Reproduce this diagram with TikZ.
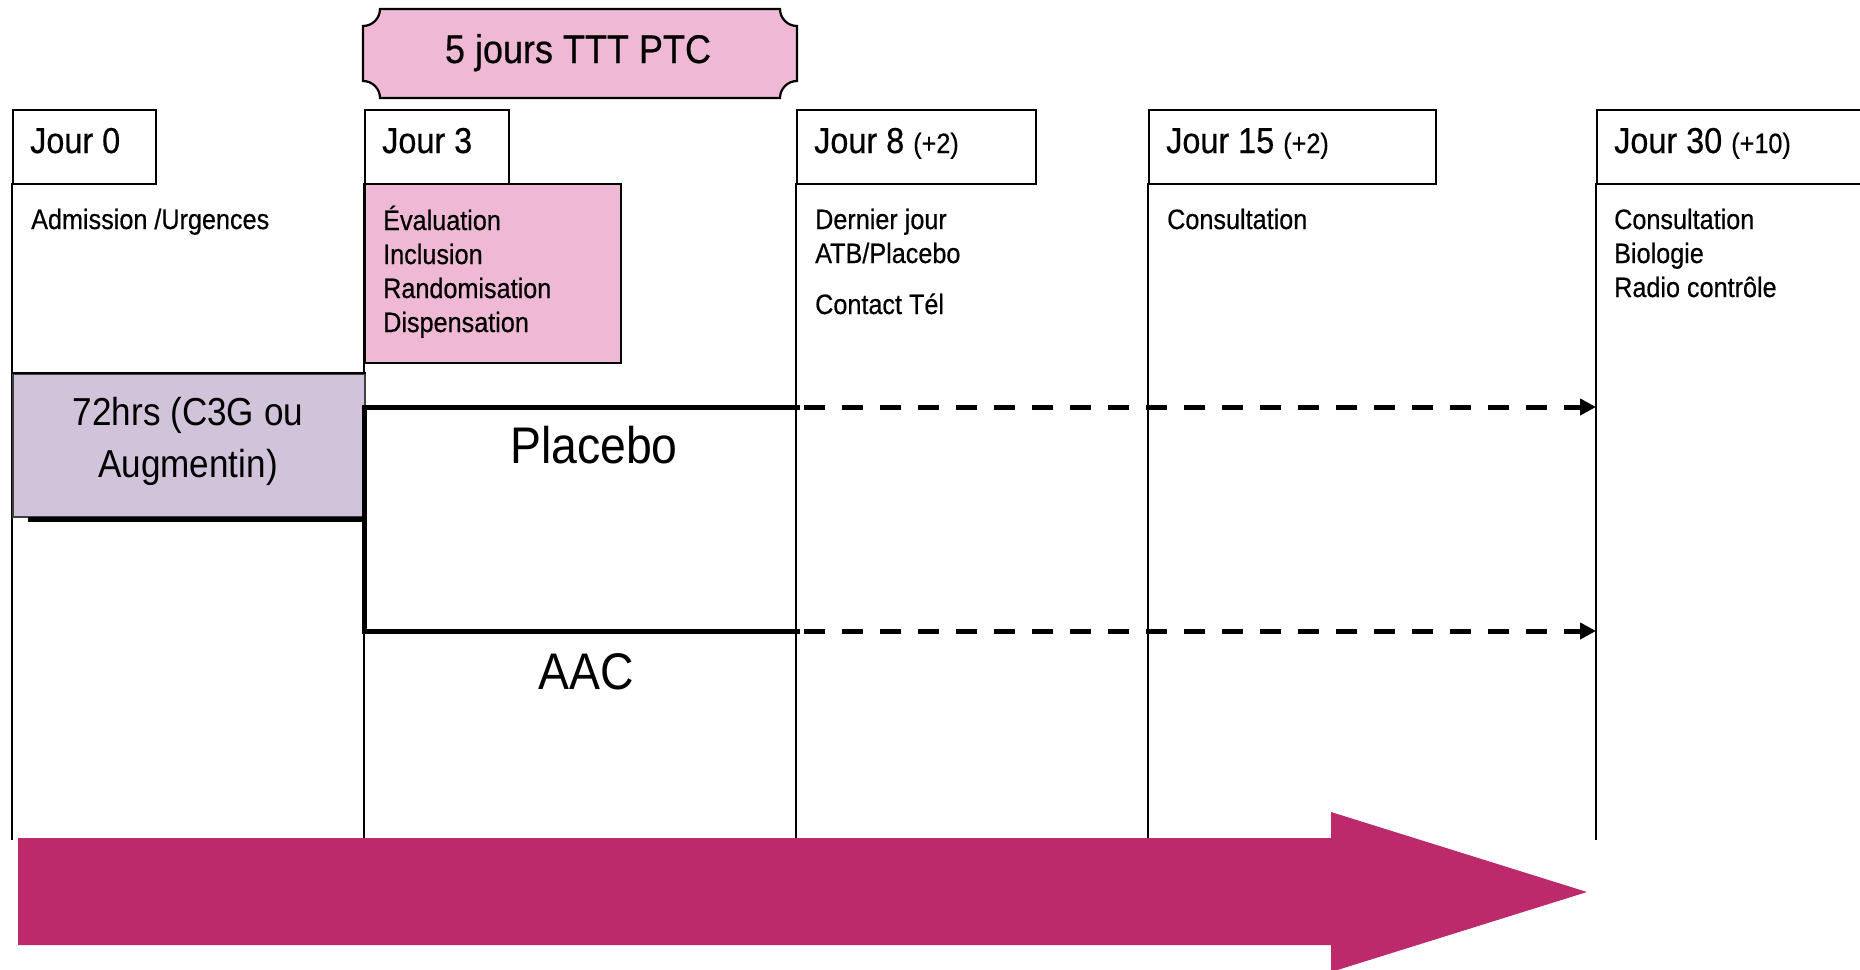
\documentclass[tikz,border=0pt]{standalone}
\usepackage{fontspec}
\setmainfont{Liberation Sans}[FakeStretch=0.9]
\newfontfamily\labfont{Liberation Sans}[FakeStretch=0.9,FakeBold=0.5]
\usetikzlibrary{arrows.meta}
\definecolor{pinkfill}{HTML}{EFB9D5}
\definecolor{lilac}{HTML}{D1C3DA}
\definecolor{magenta}{HTML}{BC2A6C}
\newcommand\fjour{\labfont\fontsize{36}{40}\selectfont}
\newcommand\flab{\labfont\fontsize{28}{34}\selectfont}
\newcommand\ftitle{\labfont\fontsize{40}{46}\selectfont}
\newcommand\fmid{\fontsize{39}{52}\selectfont}
\newcommand\fbig{\fontsize{51.5}{60}\selectfont}
\begin{document}
\begin{tikzpicture}[x=1pt,y=-1pt,
  vline/.style={line width=2pt,black},
  jbox/.style={draw=black,line width=2.2pt,fill=white,anchor=north west,inner sep=0pt},
  txt/.style={anchor=base west,inner sep=0pt,font=\flab},
  jtxt/.style={anchor=base west,inner sep=0pt,font=\fjour},
  thickln/.style={line width=5pt,black,line join=miter,line cap=butt},
  dashln/.style={line width=5pt,black,dash pattern=on 21pt off 17pt,dash phase=-4pt,
                 -{Triangle[length=16pt,width=16pt]}}]
\useasboundingbox (0,0) rectangle (1860,969);
\fill[white] (0,0) rectangle (1860,969);

% vertical timeline lines
\coordinate (v0t) at (12,183);  \coordinate (v0b) at (12,840);
\coordinate (v3t) at (364,183); \coordinate (v3b) at (364,838);
\coordinate (v8t) at (796,183); \coordinate (v8b) at (796,838);
\coordinate (v15t) at (1148,183); \coordinate (v15b) at (1148,838);
\coordinate (v30t) at (1596,183); \coordinate (v30b) at (1596,840);
\draw[vline] (v0t) -- (v0b);
\draw[vline] (v3t) -- (v3b);
\draw[vline] (v8t) -- (v8b);
\draw[vline] (v15t) -- (v15b);
\draw[vline] (v30t) -- (v30b);

% title banner
\def\r{17}
\draw[line width=2.2pt,fill=pinkfill]
  (363+\r,9) -- (797-\r,9)
  .. controls (797-\r,9+0.552*\r) and (797-0.552*\r,9+\r) .. (797,9+\r)
  -- (797,98-\r)
  .. controls (797-0.552*\r,98-\r) and (797-\r,98-0.552*\r) .. (797-\r,98)
  -- (363+\r,98)
  .. controls (363+\r,98-0.552*\r) and (363+0.552*\r,98-\r) .. (363,98-\r)
  -- (363,9+\r)
  .. controls (363+0.552*\r,9+\r) and (363+\r,9+0.552*\r) .. (363+\r,9) -- cycle;
\node[anchor=base,inner sep=0pt,font=\ftitle] (title) at (578,63) {5 jours TTT PTC};

% day boxes
\node[jbox,minimum width=143pt,minimum height=74pt] (j0) at (12,109) {};
\node[jbox,minimum width=144pt,minimum height=74pt] (j3) at (364,109) {};
\node[jbox,minimum width=239pt,minimum height=74pt] (j8) at (796,109) {};
\node[jbox,minimum width=287pt,minimum height=74pt] (j15) at (1148,109) {};
\node[jbox,minimum width=300pt,minimum height=74pt] (j30) at (1596,109) {};

\node[jtxt] (t0) at (30,153) {Jour 0};
\node[jtxt] (t3) at (382,153) {Jour 3};
\node[jtxt] (t8) at (814,153) {Jour 8 {\flab(+2)}};
\node[jtxt] (t15) at (1166,153) {Jour 15 {\flab(+2)}};
\node[jtxt] (t30) at (1614,153) {Jour 30 {\flab(+10)}};

% pink evaluation box
\node[draw=black,line width=2.2pt,fill=pinkfill,anchor=north west,inner sep=0pt,
      minimum width=256pt,minimum height=179pt] (evalbox) at (364,183) {};
\node[txt] (e1) at (383,230) {Évaluation};
\node[txt] (e2) at (383,264) {Inclusion};
\node[txt] (e3) at (383,298) {Randomisation};
\node[txt] (e4) at (383,332) {Dispensation};

% column texts
\node[txt] (a1) at (31,229) {Admission /Urgences};
\node[txt] (d1) at (815,229) {Dernier jour};
\node[txt] (d2) at (815,263) {ATB/Placebo};
\node[txt] (d3) at (815,314) {Contact Tél};
\node[txt] (c1) at (1167,229) {Consultation};
\node[txt] (f1) at (1614,229) {Consultation};
\node[txt] (f2) at (1614,263) {Biologie};
\node[txt] (f3) at (1614,297) {Radio contrôle};

% lilac 72hrs box
\node[draw=black!75,line width=1.5pt,fill=lilac,anchor=north west,inner sep=0pt,
      minimum width=352pt,minimum height=143pt] (hbox) at (12,373) {};
\draw[line width=2.5pt] (hbox.north west) -- (hbox.north east);
\node[anchor=base,inner sep=0pt,font=\fmid] (h1) at (188,425) {72hrs (C3G ou};
\node[anchor=base,inner sep=0pt,font=\fmid] (h2) at (188,477) {Augmentin)};

% treatment branches
\coordinate (s0) at (28,519);
\coordinate (s1) at (364,519);
\coordinate (pl0) at (364,407);
\coordinate (pl1) at (800,407);
\coordinate (pl2) at (1596,407);
\coordinate (ac0) at (364,631);
\coordinate (ac1) at (800,631);
\coordinate (ac2) at (1596,631);
\draw[thickln] (s0) -- (s1);
\draw[thickln] (pl1) -- (pl0) -- (ac0) -- (ac1);
\draw[dashln] (pl1) -- (pl2);
\draw[dashln] (ac1) -- (ac2);

\node[anchor=base,inner sep=0pt,font=\fbig] (plac) at (594,463) {Placebo};
\node[anchor=base,inner sep=0pt,font=\fbig] (aac) at (586,689) {AAC};

% big time arrow
\fill[magenta] (18,838) -- (1331,838) -- (1331,812) -- (1587,892) -- (1331,972)
  -- (1331,945) -- (18,945) -- cycle;
\end{tikzpicture}
\end{document}
